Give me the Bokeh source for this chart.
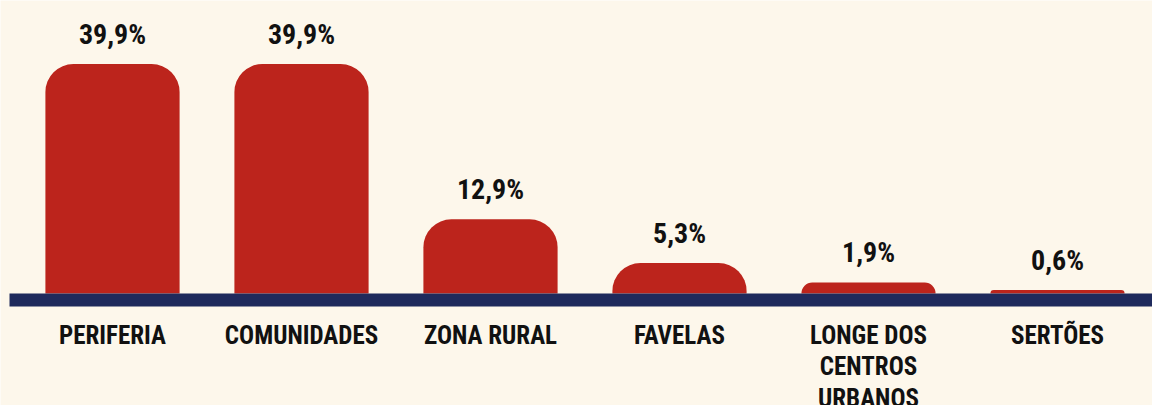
from bokeh.plotting import figure
from bokeh.models import Range1d, BoxAnnotation, ColumnDataSource
from bokeh.core.properties import value
from bokeh.embed import file_html
from bokeh.resources import INLINE

categories = ["PERIFERIA", "COMUNIDADES", "ZONA RURAL", "FAVELAS",
              "LONGE DOS\nCENTROS\nURBANOS", "SERTÕES"]
values = [39.9, 39.9, 12.9, 5.3, 1.9, 0.6]
value_labels = ["39,9%", "39,9%", "12,9%", "5,3%", "1,9%", "0,6%"]

BG = "#fdf7eb"
RED = "#bc241c"
NAVY = "#1f2a5c"
FONT = "Roboto Condensed"

W, H = 1152, 405
px_per_x = 189.0
x0 = -112 / px_per_x
px_per_y = 5.75
base_px = 293
y_top = base_px / px_per_y
y_bot = -(H - base_px) / px_per_y

src = ColumnDataSource(dict(
    x=list(range(len(categories))), top=values, cat=categories, lab=value_labels,
    zero=[0] * len(values)))

p = figure(width=W, height=H, output_backend="svg", toolbar_location=None,
           x_range=Range1d(x0, x0 + W / px_per_x), y_range=Range1d(y_bot, y_top),
           min_border=0, background_fill_color=BG, border_fill_color=BG,
           outline_line_color=None)
p.axis.visible = False
p.grid.visible = False

p.vbar(x="x", top="top", bottom=0, width=0.71, source=src, fill_color=RED,
       line_color=None, border_radius=(28, 28, 0, 0))

p.add_layout(BoxAnnotation(top=0, bottom=-13 / px_per_y, left=x0 + 9 / px_per_x,
                           fill_color=NAVY, fill_alpha=1, line_color=None,
                           level="overlay"))

p.text(x="x", y="top", text="lab", source=src, text_align="center",
       text_baseline="alphabetic", y_offset=-30, text_font=value(FONT),
       text_font_style="bold", text_font_size="28px", text_color="#111111")

p.text(x="x", y="zero", text="cat", source=src, text_align="center",
       text_baseline="top", y_offset=27, text_font=value(FONT),
       text_font_style="bold", text_font_size="25px", text_color="#111111",
       text_line_height=1.1)

open("out.html", "w").write(file_html(p, INLINE))
